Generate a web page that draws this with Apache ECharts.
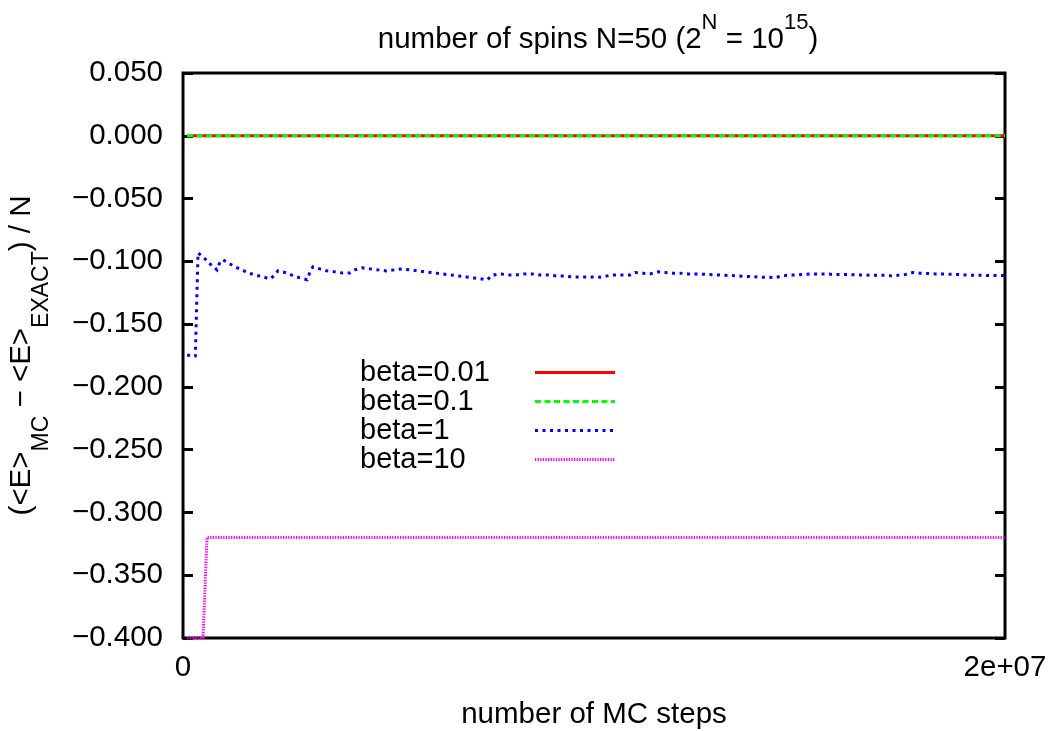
<!DOCTYPE html>
<html>
<head>
<meta charset="utf-8">
<script src="https://cdn.jsdelivr.net/npm/echarts@6/dist/echarts.min.js"></script>
<style>
  html, body { margin: 0; padding: 0; background: #fff; }
  #chart { width: 1057px; height: 731px; }
</style>
</head>
<body>
<div id="chart"></div>
<script>
// Energy error per spin vs. number of Monte Carlo steps, N = 50 spins.
const seriesNames = ['beta=0.01', 'beta=0.1', 'beta=1', 'beta=10'];

const stepsBeta001 = [1.0e5, 2.0e7];
const valuesBeta001 = [0.0, 0.0];

const stepsBeta01 = [1.0e5, 2.0e7];
const valuesBeta01 = [0.0, 0.0];

const stepsBeta1 = [
  1.0e5, 2.43e5, 3.0e5, 3.65e5, 5.11e5, 6.57e5, 8.27e5, 9.0e5, 9.73e5, 1.095e6,
  1.265e6, 1.436e6, 1.58e6, 1.75e6, 1.95e6, 2.12e6, 2.24e6, 2.31e6, 2.53e6, 2.68e6,
  2.85e6, 3.02e6, 3.09e6, 3.16e6, 3.33e6, 3.5e6, 3.7e6, 3.87e6, 4.06e6, 4.18e6,
  4.36e6, 4.55e6, 4.74e6, 4.94e6, 5.13e6, 5.33e6, 5.52e6, 5.72e6, 5.91e6, 6.11e6,
  6.30e6, 6.50e6, 6.69e6, 6.89e6, 7.08e6, 7.27e6, 7.40e6, 7.52e6, 7.71e6, 7.91e6,
  8.10e6, 8.30e6, 8.49e6, 8.69e6, 8.88e6, 9.08e6, 9.27e6, 9.46e6, 9.66e6, 9.85e6,
  1.005e7, 1.015e7, 1.032e7, 1.046e7, 1.068e7, 1.088e7, 1.100e7, 1.119e7, 1.136e7, 1.156e7,
  1.173e7, 1.192e7, 1.209e7, 1.229e7, 1.246e7, 1.263e7, 1.282e7, 1.299e7, 1.314e7, 1.336e7,
  1.350e7, 1.367e7, 1.387e7, 1.404e7, 1.423e7, 1.440e7, 1.457e7, 1.472e7, 1.494e7, 1.509e7,
  1.530e7, 1.545e7, 1.567e7, 1.582e7, 1.599e7, 1.618e7, 1.635e7, 1.652e7, 1.672e7, 1.689e7,
  1.708e7, 1.725e7, 1.740e7, 1.757e7, 1.776e7, 1.793e7, 1.813e7, 1.830e7, 1.849e7, 1.866e7,
  1.886e7, 1.903e7, 1.920e7, 1.939e7, 1.956e7, 1.971e7, 1.993e7, 2.0e7
];
const valuesBeta1 = [
  -0.1745, -0.1760, -0.1755, -0.0932, -0.0972, -0.1020, -0.1068, -0.1004, -0.0988, -0.1012,
  -0.1044, -0.1068, -0.1092, -0.1108, -0.1124, -0.1140, -0.1108, -0.1076, -0.1092, -0.1116,
  -0.1132, -0.1147, -0.1084, -0.1044, -0.1060, -0.1076, -0.1084, -0.1092, -0.1092, -0.1068,
  -0.1052, -0.1060, -0.1068, -0.1076, -0.1068, -0.1060, -0.1068, -0.1076, -0.1084, -0.1092,
  -0.1100, -0.1108, -0.1116, -0.1124, -0.1132, -0.1140, -0.1148, -0.1110, -0.1100, -0.1108,
  -0.1108, -0.1100, -0.1100, -0.1108, -0.1108, -0.1116, -0.1116, -0.1124, -0.1124, -0.1124,
  -0.1124, -0.1126, -0.1116, -0.1108, -0.1108, -0.1108, -0.1089, -0.1094, -0.1100, -0.1084,
  -0.1089, -0.1094, -0.1094, -0.1100, -0.1100, -0.1103, -0.1105, -0.1108, -0.1111, -0.1113,
  -0.1116, -0.1121, -0.1121, -0.1126, -0.1126, -0.1131, -0.1116, -0.1111, -0.1108, -0.1105,
  -0.1100, -0.1100, -0.1100, -0.1105, -0.1105, -0.1105, -0.1108, -0.1108, -0.1111, -0.1111,
  -0.1111, -0.1116, -0.1111, -0.1105, -0.1089, -0.1094, -0.1097, -0.1100, -0.1100, -0.1103,
  -0.1105, -0.1108, -0.1111, -0.1111, -0.1113, -0.1113, -0.1113, -0.1113
];

const stepsBeta10 = [1.0e5, 4.87e5, 5.84e5, 2.0e7];
const valuesBeta10 = [-0.40, -0.40, -0.32, -0.32];

const xTickLabels = ['0', '2e+07'];
const yTickLabels = ['\u22120.400', '\u22120.350', '\u22120.300', '\u22120.250', '\u22120.200',
  '\u22120.150', '\u22120.100', '\u22120.050', '0.000', '0.050'];

const FONT = '"Liberation Sans", Arial, Helvetica, sans-serif';
const FS = 29.5;

function zip(xs, ys) { return xs.map((x, i) => [x, ys[i]]); }

const chart = echarts.init(document.getElementById('chart'), null, { renderer: 'canvas' });

const baseLine = { cap: 'butt', join: 'miter' };

chart.setOption({
  backgroundColor: '#ffffff',
  animation: false,
  title: {
    text: '{a|number of spins N=50 (2}{s|N}{a| = 10}{s|15}{a|)}',
    left: 598,
    textAlign: 'center',
    top: 24.5,
    padding: 0,
    textStyle: {
      fontWeight: 'normal',
      rich: {
        a: { fontFamily: FONT, fontSize: FS, fontWeight: 'normal', lineHeight: 30, color: '#000', verticalAlign: 'bottom' },
        s: { fontFamily: FONT, fontSize: 22, fontWeight: 'normal', lineHeight: 22, color: '#000', verticalAlign: 'bottom', padding: [0, 0, 21, 0] }
      }
    }
  },
  grid: {
    left: 183, right: 52, top: 73, bottom: 93,
    outerBoundsMode: 'none',
    show: true, borderColor: '#000', borderWidth: 3, backgroundColor: 'transparent'
  },
  legend: {
    orient: 'vertical',
    left: 360,
    top: 358,
    padding: 0,
    itemGap: 0,
    align: 'right',
    itemWidth: 80,
    itemHeight: 14,
    selectedMode: false,
    data: seriesNames,
    itemStyle: { color: 'rgba(0,0,0,0)', borderWidth: 0, opacity: 0 },
    lineStyle: { width: 3 },
    formatter: name => '{t|' + name + '}',
    textStyle: {
      fontFamily: FONT, fontSize: 29, color: '#000', lineHeight: 29,
      rich: { t: { fontFamily: FONT, fontSize: 29, lineHeight: 29, color: '#000', width: 170, align: 'left' } }
    }
  },
  xAxis: {
    type: 'value',
    min: 0, max: 2e7, interval: 2e7,
    name: 'number of MC steps',
    nameLocation: 'middle',
    nameGap: 62,
    nameTextStyle: { fontFamily: FONT, fontSize: FS, color: '#000' },
    axisLine: { show: false },
    axisTick: { show: false },
    splitLine: { show: false },
    axisLabel: {
      fontFamily: FONT, fontSize: FS, color: '#000', margin: 15,
      showMinLabel: true, showMaxLabel: true,
      formatter: (v, i) => xTickLabels[i]
    }
  },
  yAxis: [
    {
      type: 'value',
      min: -0.4, max: 0.05, interval: 0.05,
      position: 'left',
      name: '{a|(<E>}{b|MC}{a| \u2212 <E>}{b|EXACT}{a|) / N}',
      nameLocation: 'middle',
      nameRotate: 90,
      nameGap: 130,
      nameTextStyle: {
        rich: {
          a: { fontFamily: FONT, fontSize: FS, lineHeight: 46, color: '#000', verticalAlign: 'top' },
          b: { fontFamily: FONT, fontSize: 23, lineHeight: 23, color: '#000', verticalAlign: 'bottom' }
        }
      },
      axisLine: { show: false },
      axisTick: { show: true, inside: true, length: 10, lineStyle: { color: '#000', width: 3 } },
      splitLine: { show: false },
      axisLabel: {
        fontFamily: FONT, fontSize: FS, color: '#000', margin: 20,
        formatter: (v, i) => yTickLabels[i]
      }
    },
    {
      type: 'value',
      min: -0.4, max: 0.05, interval: 0.05,
      position: 'right',
      axisLine: { show: false },
      axisTick: { show: true, inside: true, length: 10, lineStyle: { color: '#000', width: 3 } },
      splitLine: { show: false },
      axisLabel: { show: false }
    }
  ],
  series: [
    {
      name: seriesNames[0], type: 'line', symbol: 'none', clip: false, z: 2,
      data: zip(stepsBeta001, valuesBeta001),
      lineStyle: Object.assign({ color: '#ff0000', width: 3, type: 'solid' }, baseLine),
      itemStyle: { color: '#ff0000' }
    },
    {
      name: seriesNames[1], type: 'line', symbol: 'none', clip: false, z: 3,
      data: zip(stepsBeta01, valuesBeta01),
      lineStyle: Object.assign({ color: '#00ff00', width: 3, type: [6, 3.5] }, baseLine),
      itemStyle: { color: '#00ff00' }
    },
    {
      name: seriesNames[2], type: 'line', symbol: 'none', clip: false, z: 4,
      data: zip(stepsBeta1, valuesBeta1),
      lineStyle: Object.assign({ color: '#0000ff', width: 3, type: [3, 4.5] }, baseLine),
      itemStyle: { color: '#0000ff' }
    },
    {
      name: seriesNames[3], type: 'line', symbol: 'none', clip: false, z: 5,
      data: zip(stepsBeta10, valuesBeta10),
      lineStyle: Object.assign({ color: '#ff00ff', width: 3, type: [1.3, 1.3] }, baseLine),
      itemStyle: { color: '#ff00ff' }
    }
  ]
});
</script>
</body>
</html>
